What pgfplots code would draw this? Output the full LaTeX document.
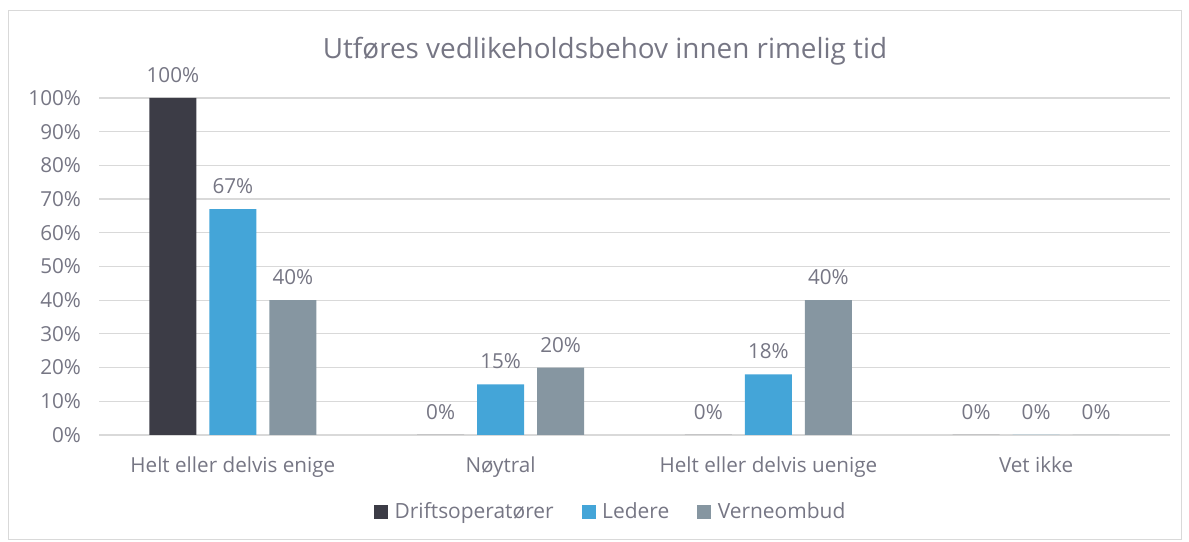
\documentclass[border=0pt]{standalone}
\usepackage{fontspec}
\setmainfont{Open Sans}
\usepackage{pgfplots}
\pgfplotsset{compat=1.18}
\definecolor{drift}{RGB}{60,60,70}
\definecolor{leder}{RGB}{68,165,216}
\definecolor{verne}{RGB}{134,150,161}
\definecolor{txt}{RGB}{118,118,132}
\definecolor{gridc}{RGB}{217,217,217}
\begin{document}
\begin{tikzpicture}
\path[use as bounding box] (0pt,0pt) rectangle (891.75pt,406.5pt);
\draw[gridc, line width=0.75pt] (6pt,1.5pt) rectangle (885.75pt,398.25pt);
\node[font=\fontsize{20.9}{24}\selectfont, text=txt] at (453.75pt,368pt)
  {Utføres vedlikeholdsbehov innen rimelig tid};
\begin{axis}[
    at={(74.25pt,80.25pt)}, anchor=south west,
    scale only axis,
    width=803.25pt, height=252.75pt,
    xmin=-0.5, xmax=3.5,
    ymin=0, ymax=100,
    ybar=9.75pt, bar width=35.25pt,
    axis line style={draw=none},
    axis x line*=bottom,
    ymajorgrids, grid style={gridc, line width=0.9pt},
    ytick={0,10,...,100},
    xtick={0,1,2,3},
    xticklabels={Helt eller delvis enige, Nøytral, Helt eller delvis uenige, Vet ikke},
    major tick length=0pt,
    /pgf/number format/assume math mode=true,
    yticklabel={\pgfmathprintnumber{\tick}\%},
    ticklabel style={font=\fontsize{15.5}{18}\selectfont, text=txt},
    xticklabel style={yshift=-13pt},
    yticklabel style={xshift=-10pt},
    nodes near coords={\pgfmathprintnumber{\pgfplotspointmeta}\%},
    nodes near coords style={font=\fontsize{15.5}{18}\selectfont, text=txt, anchor=south, yshift=8pt},
    legend style={at={(0.48,-0.228)}, anchor=center, draw=none, fill=none,
      font=\fontsize{15.7}{18}\selectfont, text=txt, legend columns=3,
      nodes={inner xsep=5pt},
      /tikz/every even column/.append style={column sep=16pt}},
    legend image code/.code={\fill[#1] (0pt,-5.2pt) rectangle (10.4pt,5.2pt);},
  ]
  \draw[gridc, line width=0.9pt] (rel axis cs:0,0) -- (rel axis cs:1,0);
  \addplot[fill=drift, draw=none] coordinates {(0,100) (1,0) (2,0) (3,0)};
  \addplot[fill=leder, draw=none] coordinates {(0,67) (1,15) (2,18) (3,0)};
  \addplot[fill=verne, draw=none] coordinates {(0,40) (1,20) (2,40) (3,0)};
  \legend{Driftsoperatører, Ledere, Verneombud}
\end{axis}
\end{tikzpicture}
\end{document}
